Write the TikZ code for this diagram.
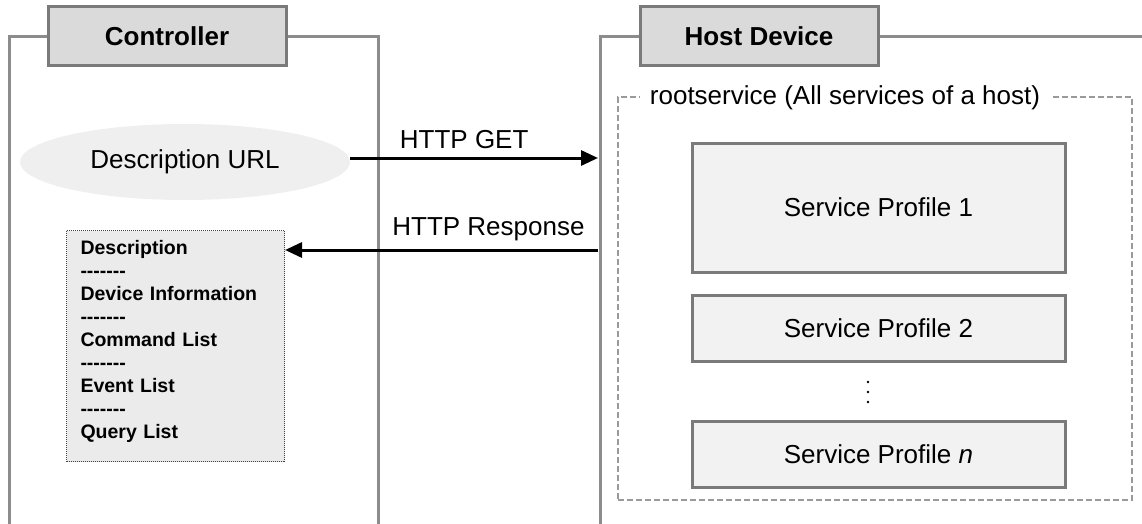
\documentclass[tikz,border=0pt]{standalone}
\usepackage{fontspec}
\setmainfont{Liberation Sans}
\usetikzlibrary{shapes.geometric,arrows.meta,backgrounds}
\definecolor{framegray}{HTML}{8C8C8C}
\definecolor{hdrfill}{HTML}{DADADA}
\definecolor{hdrline}{HTML}{7A7A7A}
\definecolor{spfill}{HTML}{F2F2F2}
\definecolor{descfill}{HTML}{EBEBEB}
\definecolor{urlfill}{HTML}{EFEFEF}
\definecolor{dashgray}{HTML}{9A9A9A}
\newcommand\sepdashes{-{}-{}-{}-{}-{}-{}-}
\tikzset{
  x=1pt, y=-1pt,
  frame/.style={draw=framegray, line width=3pt},
  header/.style={draw=hdrline, fill=hdrfill, line width=3pt, minimum width=238pt, minimum height=59pt, inner sep=0pt, font=\fontsize{26}{30}\selectfont\bfseries},
  spbox/.style={draw=hdrline, fill=spfill, line width=3pt, minimum width=373pt, inner sep=0pt, font=\fontsize{26}{30}\selectfont},
  rootbox/.style={draw=dashgray, dash pattern=on 6pt off 3pt, line width=1.5pt, minimum width=514pt, minimum height=403pt, inner sep=0pt},
  lbl/.style={font=\fontsize{26}{30}\selectfont, inner sep=2pt},
  arr/.style={draw=black, line width=3pt, -{Triangle[length=17pt,width=15pt]}},
  descbox/.style={draw=black!75, densely dotted, line width=1pt, fill=descfill, align=left, text width=190pt, inner xsep=14pt, inner ysep=10pt, font=\fontsize{19.5}{23}\selectfont\bfseries}
}
\begin{document}
\begin{tikzpicture}
\useasboundingbox (0,0) rectangle (1142,524);
% headers
\node[header] (ctrl) at (167,36.5) {Controller};
\node[header] (host) at (759,36.5) {Host Device};
\coordinate (hostend) at (1142,36.5);
\begin{scope}[on background layer]
\draw[frame] (9,524) |- (ctrl.west);
\draw[frame] (ctrl.east) -| (378,524);
\draw[frame] (600,524) |- (host.west);
\draw[frame] (host.east) -- (hostend);
\end{scope}
% rootservice
\node[rootbox] (root) at (875,298.5) {};
\node[lbl, fill=white, inner xsep=10pt, inner ysep=6pt] (rootlbl) at (845,98) {rootservice (All services of a host)};
% service profiles
\node[spbox, minimum height=129pt] (sp1) at (878.5,207.5) {Service Profile 1};
\node[spbox, minimum height=66pt] (sp2) at (878.5,328) {Service Profile 2};
\node[spbox, minimum height=66pt] (spn) at (878.5,454) {Service Profile \textit{n}};
\fill (868,382) circle (1.4pt) (868,392) circle (1.4pt) (868,402) circle (1.4pt);
% Description URL
\node[ellipse, fill=urlfill, minimum width=330pt, minimum height=76pt, inner sep=0pt, font=\fontsize{26}{30}\selectfont] (url) at (185,162) {Description URL};
% Description box
\node[descbox, anchor=north west] (desc) at (66,230) {Description\\\sepdashes\\Device Information\\\sepdashes\\Command List\\\sepdashes\\Event List\\\sepdashes\\Query List\rule[-13pt]{0pt}{1pt}};
% arrows
\coordinate (getend) at (598,158);
\coordinate (respstart) at (598,250);
\draw[arr] (url.east |- getend) -- (getend) node[lbl, pos=0.46, above=6pt] (getlbl) {HTTP GET};
\draw[arr] (respstart) -- (desc.east |- respstart) node[lbl, pos=0.35, above=6pt] (resplbl) {HTTP Response};
\end{tikzpicture}
\end{document}
